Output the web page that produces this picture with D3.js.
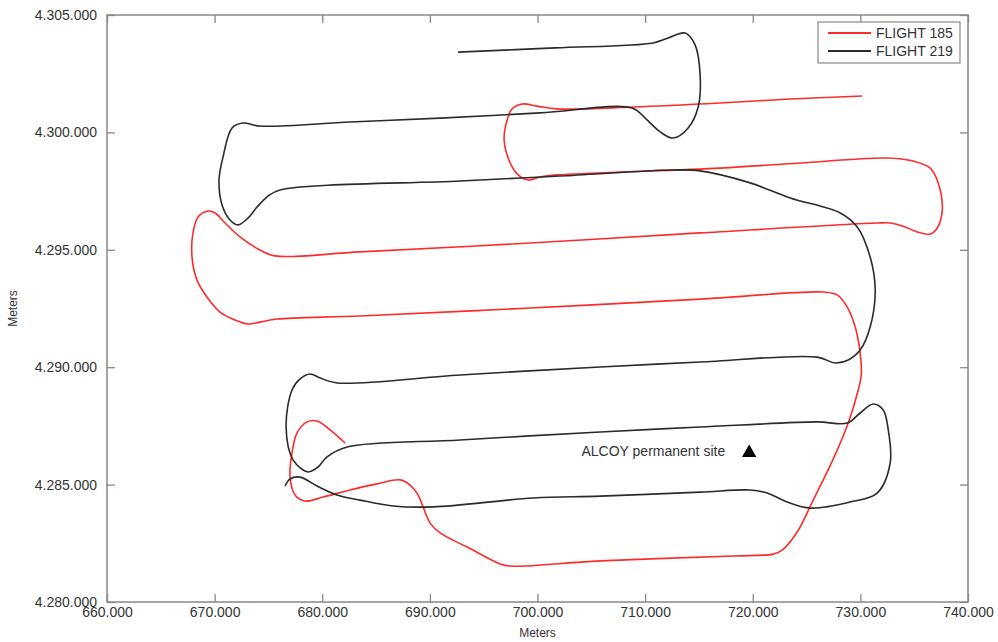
<!DOCTYPE html>
<html lang="en">
  <head>
    <meta charset="utf-8">
    <script src="https://d3js.org/d3.v7.min.js"></script>
    <style>
      body { margin: 0; background: #fff; }
      text { font-family: "Liberation Sans", Arial, sans-serif; fill: #333; }
    </style>
  </head>
  <body>
    <div id="chart">
      <svg width="998" height="642"></svg>
    </div>
    <script type="text/javascript">
      // Flight tracks, UTM meters [easting, northing]
      var flight185 = [
        [730170,4301550],[723480,4301420],[716970,4301250],[708890,4301080],[701820,4301000],
        [699960,4301120],[698570,4301210],[697640,4301000],[697180,4300530],[696900,4299680],
        [697460,4298700],[698200,4298190],[699130,4297970],[700240,4298100],[701820,4298190],
        [716970,4298480],[724410,4298700],[732490,4298910],[734910,4298780],[736490,4298480],
        [737230,4297850],[737610,4296700],[737140,4295930],[736490,4295670],[735280,4295760],
        [734170,4295970],[732770,4296140],[731560,4296140],[715110,4295720],[699310,4295290],
        [683510,4294910],[675610,4294740],[674220,4294990],[672360,4295550],[670970,4296140],
        [670040,4296570],[669390,4296650],[668460,4296400],[667990,4295720],[667900,4294690],
        [668360,4293710],[669290,4292990],[670500,4292350],[671900,4292010],[673100,4291840],
        [674220,4291920],[675800,4292050],[683510,4292180],[699310,4292520],[715110,4292900],
        [726550,4293200],[727850,4293080],[728780,4292560],[729520,4291710],[729980,4290600],
        [730080,4289670],[729800,4289030],[728870,4287620],[727570,4286180],[725620,4284340],
        [724130,4282980],[722740,4282210],[721900,4282040],[718180,4281960],[705820,4281750],
        [697460,4281530],[696530,4281620],[693460,4282340],[690950,4282940],[690020,4283360],
        [689370,4284050],[688900,4284560],[688160,4284980],[687230,4285200],[685090,4285030],
        [682580,4284770],[680080,4284470],[678400,4284300],[677470,4284560],[677010,4285320],
        [677190,4286350],[677660,4287200],[678590,4287670],[679520,4287710],[680730,4287330],
        [682120,4286770]
      ];
      var flight219 = [
        [692620,4303420],[701640,4303600],[710750,4303810],[712140,4304020],[713720,4304230],
        [714650,4303720],[715110,4302450],[714930,4301080],[714000,4300190],[712600,4299760],
        [711400,4300020],[710000,4300610],[708790,4301040],[700240,4300830],[690950,4300610],
        [682580,4300440],[674220,4300270],[672640,4300400],[671620,4300190],[670780,4298950],
        [670410,4297970],[670690,4296910],[671430,4296270],[672180,4296060],[673100,4296350],
        [673940,4296820],[674960,4297290],[676080,4297550],[692810,4297930],[702100,4298140],
        [712600,4298400],[715110,4298360],[719760,4297850],[723480,4297210],[728130,4296570],
        [729710,4295970],[730910,4294690],[731380,4293290],[730910,4291710],[729980,4290730],
        [728870,4290310],[727660,4290180],[725990,4290430],[715110,4290220],[705820,4290010],
        [692810,4289670],[681380,4289330],[679800,4289540],[678870,4289710],[677940,4289500],
        [677190,4289030],[676640,4287450],[677290,4286050],[678680,4285540],[679610,4285750],
        [680450,4286180],[682310,4286600],[692810,4286900],[705820,4287240],[715110,4287450],
        [725990,4287670],[728780,4287620],[729980,4288050],[731190,4288430],[732120,4288180],
        [732590,4287330],[732770,4285920],[731560,4284640],[729050,4284260],[725340,4284000],
        [723200,4284260],[721340,4284640],[719760,4284770],[715110,4284680],[705820,4284510],
        [699590,4284430],[690300,4284050],[686580,4284090],[683510,4284340],[681380,4284560],
        [679520,4284940],[677940,4285320],[677010,4285240],[676540,4284940]
      ];
      var site = [719670, 4286350];
      var siteLabel = "ALCOY permanent site";
      var seriesNames = ["FLIGHT 185", "FLIGHT 219"];
      var seriesColors = ["#ff2b2b", "#2b2b2b"];
      var xTicks = [660000, 670000, 680000, 690000, 700000, 710000, 720000, 730000, 740000];
      var yTicks = [4280000, 4285000, 4290000, 4295000, 4300000, 4305000];

      var svg = d3.select("svg");
      var margin = {top: 15, left: 107};
      var innerWidth = 861, innerHeight = 587;

      var locale = d3.formatLocale({decimal: ",", thousands: ".", grouping: [3], currency: ["", ""]});
      var fmt = locale.format(",");

      var xScale = d3.scaleLinear().domain([660000, 740000]).range([0, innerWidth]);
      var yScale = d3.scaleLinear().domain([4280000, 4305000]).range([innerHeight, 0]);

      var g = svg.append("g")
        .attr("transform", `translate(${margin.left},${margin.top})`);

      // axes, ticks drawn inward on all four sides
      function styleAxis(sel) {
        sel.select(".domain").remove();
        sel.selectAll(".tick line").attr("stroke", "#888").attr("stroke-width", 1.3);
        sel.selectAll(".tick text").style("font-size", "14px").attr("fill", "#333");
      }
      function noLabels(sel) {
        sel.selectAll(".tick text").remove();
      }
      g.append("g")
        .attr("transform", `translate(0,${innerHeight})`)
        .call(d3.axisBottom(xScale).tickValues(xTicks).tickSize(-8).tickPadding(5).tickFormat(fmt))
        .call(styleAxis);
      g.append("g")
        .call(d3.axisTop(xScale).tickValues(xTicks).tickSize(-8))
        .call(styleAxis).call(noLabels);
      g.append("g")
        .call(d3.axisLeft(yScale).tickValues(yTicks).tickSize(-8).tickPadding(10).tickFormat(fmt))
        .call(styleAxis);
      g.append("g")
        .attr("transform", `translate(${innerWidth},0)`)
        .call(d3.axisRight(yScale).tickValues(yTicks).tickSize(-8))
        .call(styleAxis).call(noLabels);

      g.append("rect")
        .attr("width", innerWidth)
        .attr("height", innerHeight)
        .attr("fill", "none")
        .attr("stroke", "#888")
        .attr("stroke-width", 1.5);

      // tracks
      var line = d3.line()
        .x(d => xScale(d[0]))
        .y(d => yScale(d[1]))
        .curve(d3.curveCatmullRom.alpha(0.5));

      [flight185, flight219].forEach(function(track, i) {
        g.append("path")
          .datum(track)
          .attr("d", line)
          .attr("fill", "none")
          .attr("stroke", seriesColors[i])
          .attr("stroke-width", 1.6)
          .attr("stroke-linejoin", "round");
      });

      // permanent site
      g.append("path")
        .attr("d", d3.symbol().type(d3.symbolTriangle).size(90))
        .attr("transform", `translate(${xScale(site[0])},${yScale(site[1])})`)
        .attr("fill", "#000");
      g.append("text")
        .attr("x", xScale(site[0]) - 24)
        .attr("y", yScale(site[1]) + 3)
        .attr("text-anchor", "end")
        .style("font-size", "14px")
        .text(siteLabel);

      // axis titles
      svg.append("text")
        .attr("x", margin.left + innerWidth / 2)
        .attr("y", 637)
        .attr("text-anchor", "middle")
        .style("font-size", "12px")
        .text("Meters");
      svg.append("text")
        .attr("transform", `translate(17,${margin.top + innerHeight / 2}) rotate(-90)`)
        .attr("text-anchor", "middle")
        .style("font-size", "12px")
        .text("Meters");

      // legend
      var legend = svg.append("g").attr("transform", "translate(818,22)");
      legend.append("rect")
        .attr("width", 142)
        .attr("height", 41)
        .attr("fill", "#fff")
        .attr("stroke", "#888")
        .attr("stroke-width", 1.2);
      seriesNames.forEach(function(name, i) {
        var yy = 11 + i * 18;
        legend.append("line")
          .attr("x1", 10).attr("x2", 53)
          .attr("y1", yy).attr("y2", yy)
          .attr("stroke", seriesColors[i])
          .attr("stroke-width", 1.8);
        legend.append("text")
          .attr("x", 58)
          .attr("y", yy + 5)
          .style("font-size", "14px")
          .text(name);
      });
    </script>
  </body>
</html>
